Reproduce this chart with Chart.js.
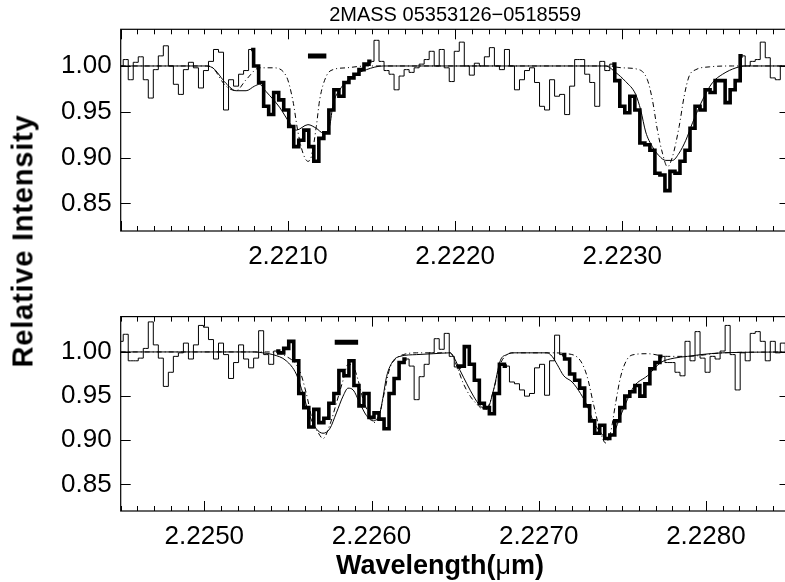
<!DOCTYPE html>
<html><head><meta charset="utf-8">
<script src="https://cdn.jsdelivr.net/npm/chart.js@4.4.0/dist/chart.umd.min.js"></script>
<style>
html,body{margin:0;padding:0;background:#fff;overflow:hidden;}
#wrap{position:relative;width:785px;height:582px;overflow:hidden;background:#fff;}
canvas{position:absolute;left:0;}
#c1{top:0;} #c2{top:292px;}
.ytitle{position:absolute;left:23.3px;top:241px;transform:translate(-50%,-50%) rotate(-90deg);font:bold 29px 'Liberation Sans',Arial,sans-serif;line-height:1;letter-spacing:0.8px;white-space:nowrap;color:#000;}
.xtitle{position:absolute;left:440px;top:564.5px;transform:translate(-50%,-50%);font:bold 27px 'Liberation Sans',Arial,sans-serif;line-height:1;white-space:nowrap;color:#000;}
.mu{font-weight:normal;}
</style></head>
<body>
<div id="wrap">
<canvas id="c1" width="800" height="292" style="width:800px;height:292px"></canvas>
<canvas id="c2" width="800" height="290" style="width:800px;height:290px"></canvas>
<div class="ytitle">Relative Intensity</div>
<div class="xtitle">Wavelength(<span class="mu">μ</span>m)</div>
</div>
<script>
// ---------- DATA ----------
const titleText = '2MASS 05353126−0518559';
const topRange = [2.2200, 2.2240];
const botRange = [2.2245, 2.2285];
const yRange = [0.82, 1.04];
const topTickLabels = [2.2210, 2.2220, 2.2230];
const botTickLabels = [2.2250, 2.2260, 2.2270, 2.2280];
const yTickLabels = [0.85, 0.90, 0.95, 1.00];

const topWave = [
2.22000,2.22003,2.22006,2.22009,2.22012,2.22015,2.22018,2.22021,2.22024,2.22027,
2.22030,2.22033,2.22036,2.22039,2.22042,2.22045,2.22048,2.22051,2.22054,2.22057,
2.22060,2.22063,2.22066,2.22069,2.22072,2.22075,2.22078,2.22081,2.22084,2.22087,
2.22090,2.22093,2.22096,2.22099,2.22102,2.22105,2.22108,2.22111,2.22114,2.22117,
2.22120,2.22123,2.22126,2.22129,2.22132,2.22135,2.22138,2.22141,2.22144,2.22147,
2.22150,2.22153,2.22156,2.22159,2.22162,2.22165,2.22168,2.22171,2.22174,2.22177,
2.22180,2.22183,2.22186,2.22189,2.22192,2.22195,2.22198,2.22201,2.22204,2.22207,
2.22210,2.22213,2.22216,2.22219,2.22222,2.22225,2.22228,2.22231,2.22234,2.22237,
2.22240,2.22243,2.22246,2.22249,2.22252,2.22255,2.22258,2.22261,2.22264,2.22267,
2.22270,2.22273,2.22276,2.22279,2.22282,2.22285,2.22288,2.22291,2.22294,2.22297,
2.22300,2.22303,2.22306,2.22309,2.22312,2.22315,2.22318,2.22321,2.22324,2.22327,
2.22330,2.22333,2.22336,2.22339,2.22342,2.22345,2.22348,2.22351,2.22354,2.22357,
2.22360,2.22363,2.22366,2.22369,2.22372,2.22375,2.22378,2.22381,2.22384,2.22387,
2.22390,2.22393,2.22396,2.22399];
const topFlux = [
1.000,1.007,0.985,1.004,1.010,0.985,0.965,0.996,1.011,1.022,
1.000,0.980,0.969,0.996,1.004,0.998,0.976,0.995,1.005,1.018,
1.015,0.952,0.985,0.978,0.991,0.995,1.018,1.000,0.982,0.956,
0.947,0.971,0.963,0.952,0.934,0.912,0.919,0.930,0.912,0.896,
0.921,0.927,0.952,0.974,0.967,0.982,0.987,0.991,0.996,1.002,
1.005,1.028,1.005,0.995,0.991,0.974,0.989,0.996,0.993,0.998,
1.002,1.007,1.016,1.000,1.018,0.998,0.983,1.016,1.026,1.000,
0.990,1.003,1.000,1.010,1.020,1.000,0.996,1.018,1.000,0.974,
0.985,0.995,0.998,0.982,0.956,0.952,0.985,0.967,0.969,0.947,
0.978,1.007,1.007,0.991,0.982,0.956,1.005,0.995,1.002,0.984,
0.956,0.949,0.967,0.952,0.916,0.914,0.908,0.883,0.881,0.864,
0.885,0.883,0.896,0.908,0.932,0.956,0.952,0.974,0.971,0.984,
0.984,0.960,0.974,0.984,1.011,1.000,1.005,1.007,1.026,1.009,
0.987,0.985,1.000,1.000];
const topFitRanges = [[2.22078, 2.22150], [2.22294, 2.22372]];

const topSolidWave = [2.22000,2.22050,2.22055,2.22063,2.22069,2.22075,2.22080,2.22083,2.22087,2.22095,2.22101,2.22105,2.22112,2.22117,2.22121,2.22125,2.22127,2.22131,2.22139,2.22147,2.22157,
2.22290,2.22296,2.22302,2.22308,2.22311,2.22314,2.22318,2.22322,2.22326,2.22330,2.22334,2.22338,2.22342,2.22348,2.22354,2.22360,2.22368,2.22374,2.22400];
const topSolidFlux = [1.000,1.000,0.998,0.981,0.973,0.973,0.978,0.980,0.972,0.955,0.938,0.930,0.936,0.932,0.927,0.935,0.958,0.974,0.989,0.996,1.000,
1.000,0.993,0.983,0.969,0.952,0.928,0.912,0.902,0.897,0.897,0.905,0.919,0.938,0.963,0.982,0.991,0.998,1.000,1.000];
const topDashWave = [2.22000,2.22053,2.22063,2.22069,2.22075,2.22083,2.22091,2.22099,2.22103,2.22106,2.22109,2.22112,2.22114,2.22117,2.22119,2.22123,2.22127,2.22135,2.22147,
2.22290,2.22300,2.22310,2.22315,2.22318,2.22321,2.22324,2.22327,2.22330,2.22334,2.22337,2.22340,2.22344,2.22352,2.22366,2.22400];
const topDashFlux = [1.000,1.000,0.978,0.973,0.985,0.998,0.998,0.989,0.962,0.928,0.905,0.896,0.901,0.934,0.963,0.989,0.996,0.998,1.000,
1.000,0.998,0.996,0.985,0.963,0.930,0.905,0.890,0.901,0.934,0.967,0.989,0.996,0.999,1.000,1.000];
const topMarkWave = [2.22112, 2.22123];
const topMarkFlux = [1.011, 1.011];

const botWave = [
2.22450,2.22453,2.22456,2.22459,2.22462,2.22465,2.22468,2.22471,2.22474,2.22477,
2.22480,2.22483,2.22486,2.22489,2.22492,2.22495,2.22498,2.22501,2.22504,2.22507,
2.22510,2.22513,2.22516,2.22519,2.22522,2.22525,2.22528,2.22531,2.22534,2.22537,
2.22540,2.22543,2.22546,2.22549,2.22552,2.22555,2.22558,2.22561,2.22564,2.22567,
2.22570,2.22573,2.22576,2.22579,2.22582,2.22585,2.22588,2.22591,2.22594,2.22597,
2.22600,2.22603,2.22606,2.22609,2.22612,2.22615,2.22618,2.22621,2.22624,2.22627,
2.22630,2.22633,2.22636,2.22639,2.22642,2.22645,2.22648,2.22651,2.22654,2.22657,
2.22660,2.22663,2.22666,2.22669,2.22672,2.22675,2.22678,2.22681,2.22684,2.22687,
2.22690,2.22693,2.22696,2.22699,2.22702,2.22705,2.22708,2.22711,2.22714,2.22717,
2.22720,2.22723,2.22726,2.22729,2.22732,2.22735,2.22738,2.22741,2.22744,2.22747,
2.22750,2.22753,2.22756,2.22759,2.22762,2.22765,2.22768,2.22771,2.22774,2.22777,
2.22780,2.22783,2.22786,2.22789,2.22792,2.22795,2.22798,2.22801,2.22804,2.22807,
2.22810,2.22813,2.22816,2.22819,2.22822,2.22825,2.22828,2.22831,2.22834,2.22837,
2.22840,2.22843,2.22846,2.22849];
const botFlux = [
1.012,1.020,0.990,0.990,0.993,1.004,1.034,1.008,0.993,0.961,
0.977,0.995,0.999,1.010,0.992,1.008,1.030,1.028,1.014,0.992,
1.010,0.997,0.970,0.988,1.008,0.992,0.982,0.993,1.024,0.997,
0.986,1.001,0.999,1.004,1.012,0.990,0.953,0.937,0.915,0.935,
0.920,0.925,0.942,0.953,0.979,0.973,0.990,0.962,0.939,0.953,
0.926,0.931,0.924,0.913,0.953,0.970,0.988,0.992,0.984,0.946,
0.972,0.986,0.999,1.015,1.003,1.021,0.995,0.983,0.984,1.006,
0.986,0.968,0.942,0.937,0.930,0.953,0.986,0.984,0.966,0.964,
0.957,0.950,0.953,0.982,0.986,0.951,0.990,1.019,0.997,0.992,
0.975,0.968,0.959,0.939,0.922,0.908,0.917,0.902,0.906,0.922,
0.937,0.950,0.955,0.962,0.950,0.964,0.981,0.988,0.995,0.988,
0.988,0.977,0.973,1.012,0.990,1.023,0.993,0.977,0.995,0.992,
1.001,1.030,0.997,0.957,0.999,0.990,1.021,1.023,1.012,0.990,
1.012,0.999,1.010,0.999];
const botFitRanges = [[2.22543, 2.22621], [2.22651, 2.22681], [2.22714, 2.22774]];

const botSolidWave = [2.22450,2.22530,2.22535,2.22541,2.22549,2.22555,2.22559,2.22563,2.22567,2.22571,2.22575,2.22579,2.22583,2.22586,2.22589,2.22593,2.22597,2.22601,2.22605,2.22607,2.22609,2.22613,2.22617,2.22627,2.22637,
2.22647,2.22649,2.22653,2.22657,2.22661,2.22665,2.22669,2.22673,2.22677,2.22681,2.22685,
2.22705,2.22708,2.22711,2.22715,2.22720,2.22725,2.22729,2.22733,2.22737,2.22741,2.22745,2.22749,2.22753,2.22757,2.22765,2.22773,2.22781,2.22789,2.22797,2.22810,2.22850];
const botSolidFlux = [1.000,1.000,0.999,0.997,0.990,0.975,0.953,0.928,0.913,0.908,0.913,0.931,0.950,0.959,0.957,0.942,0.928,0.922,0.931,0.950,0.972,0.990,0.995,0.997,0.998,
0.999,0.995,0.979,0.964,0.950,0.939,0.935,0.957,0.990,0.997,0.999,
0.999,0.995,0.986,0.973,0.966,0.953,0.939,0.920,0.909,0.902,0.909,0.928,0.946,0.961,0.973,0.988,0.993,0.995,0.997,0.999,1.000];
const botDashWave = [2.22450,2.22537,2.22549,2.22557,2.22561,2.22565,2.22568,2.22571,2.22575,2.22579,2.22583,2.22586,2.22589,2.22592,2.22595,2.22599,2.22602,2.22605,2.22608,2.22611,2.22615,2.22619,2.22627,
2.22647,2.22651,2.22655,2.22659,2.22663,2.22667,2.22670,2.22673,2.22677,2.22681,2.22685,
2.22707,2.22717,2.22725,2.22729,2.22733,2.22737,2.22740,2.22743,2.22746,2.22749,2.22753,2.22757,2.22765,2.22777,2.22789,2.22810,2.22850];
const botDashFlux = [1.000,1.000,0.995,0.979,0.953,0.920,0.909,0.902,0.917,0.942,0.968,0.986,0.984,0.968,0.946,0.928,0.920,0.931,0.957,0.982,0.993,0.997,0.999,
0.999,0.984,0.964,0.950,0.941,0.935,0.939,0.957,0.986,0.997,0.999,
0.999,0.998,0.990,0.972,0.939,0.909,0.897,0.909,0.942,0.972,0.992,0.997,0.998,0.995,0.995,0.999,1.000];
const botMarkWave = [2.22578, 2.22592];
const botMarkFlux = [1.011, 1.011];

// ---------- RENDER ----------
const FONT = "'Liberation Sans', Arial, Helvetica, sans-serif";
const MINOR = 0.0001;

function pts(xs, ys) { return xs.map((v, i) => ({x: v, y: ys[i]})); }
function sub(xs, ys, r) {
  const out = [];
  xs.forEach((v, i) => { if (v >= r[0] - 1e-7 && v <= r[1] + 1e-7) out.push({x: v, y: ys[i]}); });
  return out;
}

const framePlugin = {
  id: 'frame',
  afterDraw(chart) {
    const {ctx, chartArea: a} = chart;
    const x = chart.scales.x, y = chart.scales.y;
    ctx.save();
    ctx.strokeStyle = '#000';
    ctx.lineWidth = 1.2;
    ctx.strokeRect(a.left, a.top, a.right - a.left, a.bottom - a.top);
    ctx.lineWidth = 1;
    ctx.beginPath();
    const k0 = Math.ceil(x.min / MINOR - 1e-6), k1 = Math.floor(x.max / MINOR + 1e-6);
    for (let k = k0; k <= k1; k++) {
      const px = Math.round(x.getPixelForValue(k * MINOR)) + 0.5;
      const len = (k % 10 === 0) ? 10 : 5;
      ctx.moveTo(px, a.bottom); ctx.lineTo(px, a.bottom - len);
      ctx.moveTo(px, a.top); ctx.lineTo(px, a.top + len);
    }
    y.ticks.forEach(t => {
      const py = Math.round(y.getPixelForValue(t.value)) + 0.5;
      ctx.moveTo(a.left, py); ctx.lineTo(a.left + 10, py);
      ctx.moveTo(a.right, py); ctx.lineTo(a.right - 10, py);
    });
    ctx.stroke();
    ctx.restore();
  }
};

function makeChart(id, p) {
  const datasets = [
    {data: pts(p.wave, p.flux), stepped: 'middle', borderWidth: 1, order: 3},
    ...p.fits.map(r => ({data: sub(p.wave, p.flux, r), stepped: 'middle', borderWidth: 3.6, order: 0, borderJoinStyle: 'miter'})),
    {data: pts(p.solidW, p.solidF), borderWidth: 1, cubicInterpolationMode: 'monotone', order: 1},
    {data: pts(p.dashW, p.dashF), borderWidth: 1, borderDash: [5, 3, 1, 3], cubicInterpolationMode: 'monotone', order: 2},
    {data: pts(p.markW, p.markF), borderWidth: 5, borderCapStyle: 'butt', order: 0}
  ];
  datasets.forEach(d => { d.borderColor = '#000'; d.pointRadius = 0; d.fill = false; });
  return new Chart(document.getElementById(id), {
    type: 'line',
    data: {datasets},
    plugins: [framePlugin],
    options: {
      responsive: false, animation: false, devicePixelRatio: 1,
      layout: {padding: {left: 0, right: 10.5, top: p.padTop, bottom: 0}},
      plugins: {
        legend: {display: false}, tooltip: {enabled: false},
        title: p.title ? {display: true, text: p.title, color: '#000', fullSize: false,
          font: {family: FONT, size: 20, weight: 'normal'}, padding: {top: 3.5, bottom: 1.8}} : {display: false}
      },
      scales: {
        x: {
          type: 'linear', min: p.range[0], max: p.range[1],
          grid: {display: false, drawTicks: false}, border: {display: false},
          ticks: {font: {family: FONT, size: 26}, color: '#000', padding: 10.5, autoSkip: false, maxRotation: 0,
            callback: v => v.toFixed(4)},
          afterBuildTicks: s => { s.ticks = p.xLabels.map(v => ({value: v})); },
          afterFit: s => { s.height = p.xHeight; }
        },
        y: {
          type: 'linear', min: yRange[0], max: yRange[1],
          grid: {display: false, drawTicks: false}, border: {display: false},
          ticks: {font: {family: FONT, size: 26}, color: '#000', padding: 9, autoSkip: false,
            callback: v => v.toFixed(2)},
          afterBuildTicks: s => { s.ticks = yTickLabels.map(v => ({value: v})); },
          afterFit: s => { s.width = 120.7; }
        }
      }
    }
  });
}

makeChart('c1', {wave: topWave, flux: topFlux, fits: topFitRanges,
  solidW: topSolidWave, solidF: topSolidFlux, dashW: topDashWave, dashF: topDashFlux,
  markW: topMarkWave, markF: topMarkFlux, range: topRange, xLabels: topTickLabels,
  title: titleText, padTop: 0, xHeight: 61});
makeChart('c2', {wave: botWave, flux: botFlux, fits: botFitRanges,
  solidW: botSolidWave, solidF: botSolidFlux, dashW: botDashWave, dashF: botDashFlux,
  markW: botMarkWave, markF: botMarkFlux, range: botRange, xLabels: botTickLabels,
  title: null, padTop: 18.7, xHeight: 71});
</script>
</body></html>
